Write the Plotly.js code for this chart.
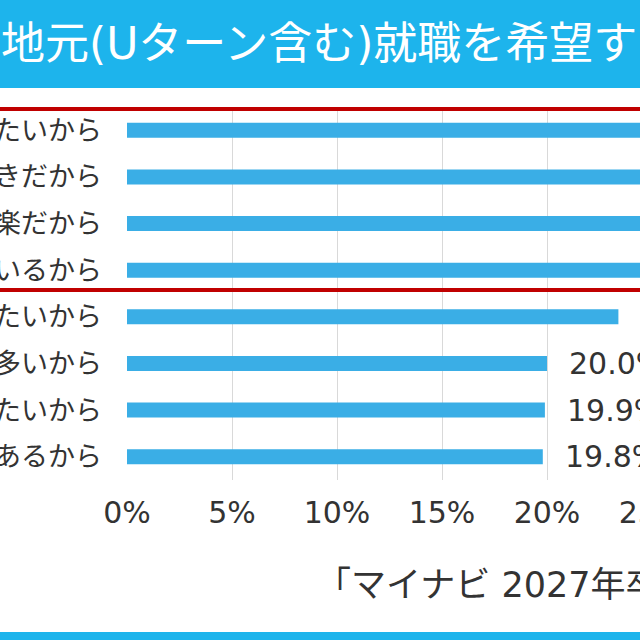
<!DOCTYPE html>
<html><head><meta charset="utf-8">
<script src="https://cdn.plot.ly/plotly-3.0.1.min.js"></script>
<style>html,body{margin:0;padding:0;overflow:hidden;width:640px;height:640px;background:#fff}#c{width:900px;height:640px}</style>
</head><body><div id="c"></div>
<script>
const reasons = [
  "両親や祖父母の近くで生活したいから",
  "地元が好きだから",
  "実家から通えて楽だから",
  "地元に友人がいるから",
  "地元に貢献したいから",
  "都会より自然が多いから",
  "慣れ親しんだ環境で働きたいから",
  "地元に働きたい企業があるから"
];
const shares = [45.2, 36.8, 31.5, 26.9, 23.4, 20.0, 19.9, 19.8];
const xTickVals = [0, 5, 10, 15, 20, 25, 30, 35];
const xTickText = ["0%", "5%", "10%", "15%", "20%", "25%", "30%", "35%"];
const titleText = "地元(Uターン含む)就職を希望する理由";
const sourceText = "「マイナビ 2027年卒大学生Uターン・地域就職意識調査」";

const W = 900, H = 640, L = 127, T = 107, B = 160, R = 38;
const pw = W - L - R, ph = H - T - B;
const px2x = p => (p - L) / pw;
const py2y = p => (H - B - p) / ph;
const FONT = '"DejaVu Sans", "Noto Sans CJK JP", sans-serif';
const CJK = '"Noto Sans CJK JP", "Noto Sans", sans-serif';
const band = '#1db4ec';
const ink = '#333333';

const trace = {
  type: 'bar', orientation: 'h',
  x: shares, y: reasons,
  marker: {color: '#3aaee6'},
  width: 0.32,
  hoverinfo: 'none'
};

const annotations = shares.map((v, i) => ({
  x: v, y: reasons[i], xref: 'x', yref: 'y',
  text: v.toFixed(1) + '%', showarrow: false,
  xanchor: 'left', yanchor: 'middle', xshift: 20,
  font: {family: FONT, size: 30, color: ink}
}));
annotations.push({
  xref: 'paper', yref: 'paper', x: px2x(314), y: py2y(585),
  xanchor: 'left', yanchor: 'middle', showarrow: false,
  text: sourceText, font: {family: FONT, size: 35, color: ink}
});

const layout = {
  width: W, height: H,
  margin: {l: L, r: R, t: T, b: B, autoexpand: false},
  paper_bgcolor: '#fff', plot_bgcolor: '#fff',
  showlegend: false,
  title: {
    text: titleText, xref: 'container', yref: 'container',
    x: 1 / W, xanchor: 'left', y: 1 - 44 / H, yanchor: 'middle',
    font: {family: FONT, size: 44, color: '#fff'}
  },
  xaxis: {
    range: [0, 35], tickvals: xTickVals, ticktext: xTickText,
    showgrid: true, gridcolor: '#d9d9d9', gridwidth: 1,
    zeroline: false, showline: false, ticks: '',
    tickfont: {family: FONT, size: 30, color: ink},
    ticklabelstandoff: 12, automargin: false, fixedrange: true
  },
  yaxis: {
    type: 'category', autorange: 'reversed',
    showgrid: false, zeroline: false, showline: false, ticks: '',
    tickfont: {family: CJK, size: 27, color: ink},
    ticklabelstandoff: 24, automargin: false, fixedrange: true
  },
  shapes: [
    {type: 'rect', xref: 'paper', yref: 'paper', x0: px2x(-10), x1: px2x(W + 10),
     y0: py2y(88), y1: py2y(-10), fillcolor: band, line: {width: 0}, layer: 'below'},
    {type: 'rect', xref: 'paper', yref: 'paper', x0: px2x(-10), x1: px2x(W + 10),
     y0: py2y(H + 10), y1: py2y(632), fillcolor: band, line: {width: 0}, layer: 'below'},
    {type: 'rect', xref: 'paper', yref: 'paper', x0: px2x(-40), x1: px2x(W - 20),
     y0: py2y(290), y1: py2y(109), fillcolor: 'rgba(0,0,0,0)',
     line: {color: '#c00000', width: 4}, layer: 'above'}
  ],
  annotations: annotations
};

Plotly.newPlot('c', [trace], layout, {displayModeBar: false, staticPlot: true});
</script></body></html>
